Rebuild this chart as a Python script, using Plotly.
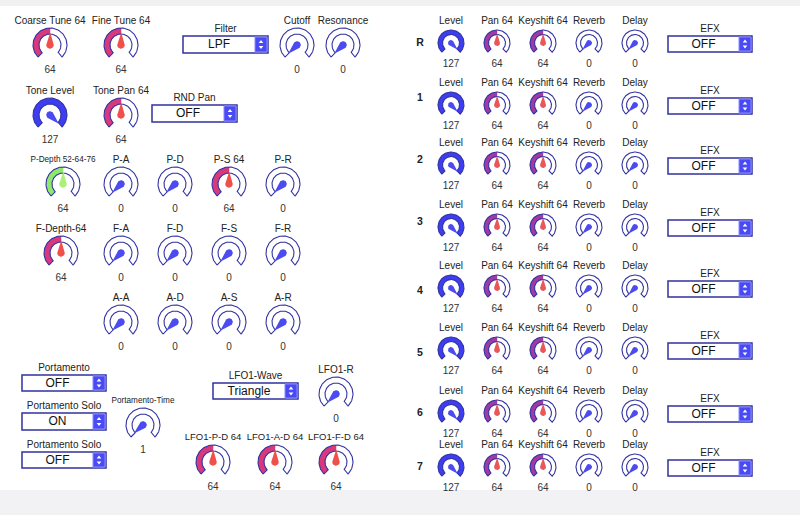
import numpy as np
import plotly.graph_objects as go

# ---- tone section (left) : knob labels and values ----
tone_labels = ["Coarse Tune 64", "Fine Tune 64", "Cutoff", "Resonance",
               "Tone Level", "Tone Pan 64",
               "P-Depth 52-64-76", "P-A", "P-D", "P-S 64", "P-R",
               "F-Depth-64", "F-A", "F-D", "F-S", "F-R",
               "A-A", "A-D", "A-S", "A-R",
               "Portamento-Time", "LFO1-R",
               "LFO1-P-D 64", "LFO1-A-D 64", "LFO1-F-D 64"]
tone_values = [64, 64, 0, 0,
               127, 64,
               64, 0, 0, 64, 0,
               64, 0, 0, 0, 0,
               0, 0, 0, 0,
               1, 0,
               64, 64, 64]

# ---- selectors ----
select_labels = ["Filter", "RND Pan", "Portamento", "Portamento Solo", "Portamento Solo", "LFO1-Wave"]
select_values = ["LPF", "OFF", "OFF", "ON", "OFF", "Triangle"]

# ---- part mixer (right) ----
part_names = ["R", "1", "2", "3", "4", "5", "6", "7"]
part_columns = ["Level", "Pan 64", "Keyshift 64", "Reverb", "Delay"]
part_level = [127, 127, 127, 127, 127, 127, 127, 127]
part_pan = [64, 64, 64, 64, 64, 64, 64, 64]
part_keyshift = [64, 64, 64, 64, 64, 64, 64, 64]
part_reverb = [0, 0, 0, 0, 0, 0, 0, 0]
part_delay = [0, 0, 0, 0, 0, 0, 0, 0]
part_efx = ["OFF", "OFF", "OFF", "OFF", "OFF", "OFF", "OFF", "OFF"]

# ---- layout (pixel positions) ----
tone_xy = [(50, 45), (121, 45), (297, 45), (343, 45),
           (50, 115), (121, 115),
           (63, 184), (121, 184), (175, 184), (229, 184), (283, 184),
           (61, 253), (121, 253), (175, 253), (229, 253), (283, 253),
           (121, 322), (175, 322), (229, 322), (283, 322),
           (143, 425), (336, 394),
           (213, 462), (275, 462), (336, 462)]
tone_kind = ["pink", "pink", "blue", "blue", "blue", "pink",
             "green", "blue", "blue", "pink", "blue",
             "pink", "blue", "blue", "blue", "blue",
             "blue", "blue", "blue", "blue",
             "blue", "blue", "pink", "pink", "pink"]
narrow = {"P-Depth 52-64-76", "Portamento-Time"}
tight = {"LFO1-P-D 64", "LFO1-A-D 64", "LFO1-F-D 64"}
select_boxes = [(183, 268, 36, 53), (152, 237, 105, 122), (22, 106, 375, 391),
                (22, 106, 413, 430), (22, 106, 452, 468), (213, 298, 383, 399)]
part_x = [451, 497, 543, 589, 635]
part_kind = ["blue", "purple", "purple", "blue", "blue"]
part_y = [43, 105, 165, 227, 288, 350, 413, 467]
part_name_y = [43, 98, 160, 222, 291, 353, 413, 467]

FILL = {"blue": "#3d3df2", "pink": "#d8387c", "purple": "#a23aa6", "green": "#8fe86c"}
PTR = {"blue": "#4b4bf0", "pink": "#f0504c", "purple": "#e8585a", "green": "#acf07a"}
NAVY = "#3232a0"
FONT = "Liberation Sans, Arial, sans-serif"


def ang(v):
    return 225 - 270 * v / 127.0


def arc(cx, cy, r, a0, a1):
    n = max(int(abs(a0 - a1) / 3) + 2, 3)
    t = np.radians(np.linspace(a0, a1, n))
    return list(cx + r * np.cos(t)), list(cy - r * np.sin(t))


def band(cx, cy, ro, ri, a0, a1):
    xo, yo = arc(cx, cy, ro, a0, a1)
    xi, yi = arc(cx, cy, ri, a1, a0)
    return xo + xi + [xo[0]], yo + yi + [yo[0]]


def pointer(cx, cy, a, rb, length):
    t = np.radians(np.linspace(a + 90, a + 270, 18))
    xs = list(cx + rb * np.cos(t)) + [cx + length * np.cos(np.radians(a))]
    ys = list(cy - rb * np.sin(t)) + [cy - length * np.sin(np.radians(a))]
    return xs + [xs[0]], ys + [ys[0]]


bg = ([], [])
fills = {k: ([], []) for k in FILL}
ptrs = {k: ([], []) for k in PTR}


def add(acc, pts):
    acc[0].extend(pts[0] + [None])
    acc[1].extend(pts[1] + [None])


def knob(cx, cy, v, kind, big):
    ro, ri, rb, ln = (17, 11, 3.8, 12.5) if big else (13, 8.5, 3, 9.5)
    add(bg, band(cx, cy, ro, ri, 225, -45))
    if v > 0:
        add(fills[kind], band(cx, cy, ro, ri, 225, ang(v)))
    add(ptrs[kind], pointer(cx, cy, ang(v), rb, ln))


lab = {"x": [], "y": [], "t": []}
lab_t = {"x": [], "y": [], "t": []}
lab_n = {"x": [], "y": [], "t": []}
val = {"x": [], "y": [], "t": []}

for name, v, (cx, cy), kind in zip(tone_labels, tone_values, tone_xy, tone_kind):
    knob(cx, cy, v, kind, True)
    d = lab_n if name in narrow else (lab_t if name in tight else lab)
    d["x"].append(cx); d["y"].append(cy - 24); d["t"].append(name)
    val["x"].append(cx); val["y"].append(cy + 25); val["t"].append(str(v))

part_vals = [part_level, part_pan, part_keyshift, part_reverb, part_delay]
for i, py in enumerate(part_y):
    for j, px in enumerate(part_x):
        v = part_vals[j][i]
        knob(px, py, v, part_kind[j], False)
        lab["x"].append(px); lab["y"].append(py - 22); lab["t"].append(part_columns[j])
        val["x"].append(px); val["y"].append(py + 21); val["t"].append(str(v))

# dropdowns
drops = [(b, l, s) for b, l, s in zip(select_boxes, select_labels, select_values)]
drops += [((668, 752, py - 7, py + 9), "EFX", e) for py, e in zip(part_y, part_efx)]

shapes = [
    dict(type="rect", x0=0, x1=800, y0=0, y1=6, fillcolor="#f1f1f1", line_width=0, layer="below"),
    dict(type="rect", x0=0, x1=800, y0=490, y1=515, fillcolor="#f2f2f4", line_width=0, layer="below"),
]
dd_txt = {"x": [], "y": [], "t": []}
arrows_up, arrows_dn = ([], []), ([], [])
for (x0, x1, y0, y1), l, s in drops:
    shapes.append(dict(type="rect", x0=x0, x1=x1, y0=y0, y1=y1, fillcolor="white",
                       line=dict(color=NAVY, width=1.5), layer="below"))
    shapes.append(dict(type="rect", x0=x1 - 13, x1=x1 - 1, y0=y0 + 1, y1=y1 - 1,
                       fillcolor="#4a4af4", line=dict(color="#8a8aff", width=1), layer="below"))
    lab["x"].append((x0 + x1) / 2); lab["y"].append(y0 - 7); lab["t"].append(l)
    dd_txt["x"].append((x0 + x1 - 13) / 2); dd_txt["y"].append((y0 + y1) / 2 + 0.5); dd_txt["t"].append(s)
    ym = (y0 + y1) / 2
    arrows_up[0].append(x1 - 7); arrows_up[1].append(ym - 2.5)
    arrows_dn[0].append(x1 - 7); arrows_dn[1].append(ym + 2.5)

fig = go.Figure()
fig.add_trace(go.Scatter(x=bg[0], y=bg[1], fill="toself", fillcolor="white",
                         mode="lines", line=dict(width=0), hoverinfo="skip"))
for k, (xs, ys) in fills.items():
    if xs:
        fig.add_trace(go.Scatter(x=xs, y=ys, fill="toself", fillcolor=FILL[k],
                                 mode="lines", line=dict(width=0), hoverinfo="skip"))
fig.add_trace(go.Scatter(x=bg[0], y=bg[1], mode="lines",
                         line=dict(color=NAVY, width=1.1), hoverinfo="skip"))
for k, (xs, ys) in ptrs.items():
    if xs:
        fig.add_trace(go.Scatter(x=xs, y=ys, fill="toself", fillcolor=PTR[k],
                                 mode="lines", line=dict(width=0), hoverinfo="skip"))

fig.add_trace(go.Scatter(x=arrows_up[0], y=arrows_up[1], mode="markers", hoverinfo="skip",
                         marker=dict(symbol="triangle-up", size=4, color="white")))
fig.add_trace(go.Scatter(x=arrows_dn[0], y=arrows_dn[1], mode="markers", hoverinfo="skip",
                         marker=dict(symbol="triangle-down", size=4, color="white")))

fig.add_trace(go.Scatter(x=lab["x"], y=lab["y"], text=lab["t"], mode="text", hoverinfo="skip",
                         textfont=dict(family=FONT, size=10, color="#222222")))
fig.add_trace(go.Scatter(x=lab_t["x"], y=lab_t["y"], text=lab_t["t"], mode="text", hoverinfo="skip",
                         textfont=dict(family=FONT, size=9.5, color="#222222")))
fig.add_trace(go.Scatter(x=lab_n["x"], y=lab_n["y"], text=lab_n["t"], mode="text", hoverinfo="skip",
                         textfont=dict(family=FONT, size=8.2, color="#222222")))
fig.add_trace(go.Scatter(x=val["x"], y=val["y"], text=val["t"], mode="text", hoverinfo="skip",
                         textfont=dict(family=FONT, size=10, color="#333333")))
fig.add_trace(go.Scatter(x=dd_txt["x"], y=dd_txt["y"], text=dd_txt["t"], mode="text", hoverinfo="skip",
                         textfont=dict(family=FONT, size=12, color="#111111")))
fig.add_trace(go.Scatter(x=[420] * len(part_names), y=part_name_y, text=part_names, mode="text",
                         hoverinfo="skip",
                         textfont=dict(family="Liberation Sans, Arial", size=10.5, color="#222222",
                                       weight="bold")))

fig.update_layout(
    width=800, height=515,
    margin=dict(l=0, r=0, t=0, b=0),
    paper_bgcolor="white", plot_bgcolor="white",
    showlegend=False,
    shapes=shapes,
    xaxis=dict(range=[0, 800], visible=False, fixedrange=True),
    yaxis=dict(range=[515, 0], visible=False, fixedrange=True),
)

fig.write_html("out.html", config={"displayModeBar": False},
               post_script="document.body.style.margin='0';")
